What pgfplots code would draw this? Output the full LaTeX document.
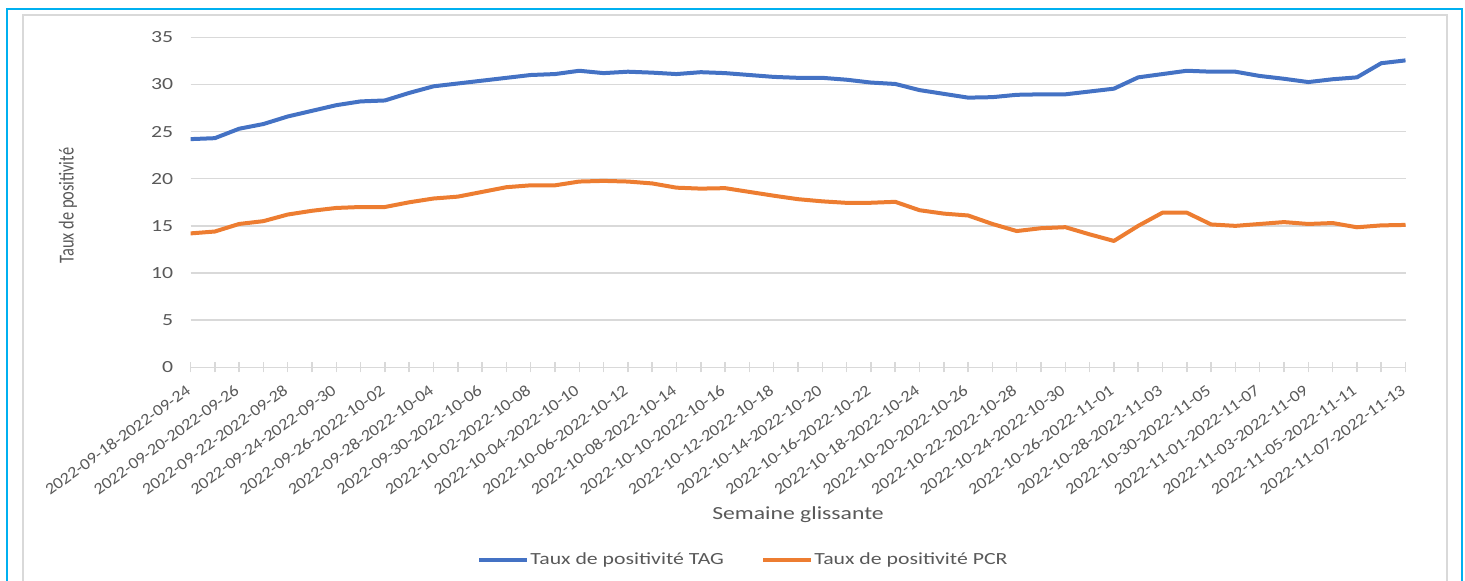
\documentclass[border=0pt]{standalone}
\usepackage{fontspec}
\setmainfont[FakeStretch=1.28]{Carlito}
\newfontfamily\diagfont[FakeStretch=1.12]{Carlito}
\newfontfamily\vertfont{Carlito}
\usepackage{graphicx}
\usepackage{pgfplots}
\usepackage{pgfplotstable}
\pgfplotsset{compat=1.18}
\definecolor{tagblue}{HTML}{4472C4}
\definecolor{pcrorange}{HTML}{ED7D31}
\definecolor{gridgray}{HTML}{D9D9D9}
\definecolor{txtgray}{HTML}{595959}
\definecolor{framecyan}{HTML}{00B0F0}

\pgfplotstableread{
i tag pcr
0 24.2 14.2
1 24.3 14.4
2 25.3 15.2
3 25.8 15.5
4 26.6 16.2
5 27.2 16.6
6 27.8 16.9
7 28.2 17.0
8 28.3 17.0
9 29.1 17.5
10 29.8 17.9
11 30.1 18.1
12 30.4 18.6
13 30.7 19.1
14 31.0 19.3
15 31.1 19.3
16 31.45 19.7
17 31.2 19.77
18 31.35 19.7
19 31.25 19.5
20 31.1 19.05
21 31.3 18.95
22 31.2 19.0
23 31.0 18.6
24 30.8 18.2
25 30.7 17.83
26 30.7 17.6
27 30.5 17.44
28 30.2 17.45
29 30.05 17.55
30 29.4 16.66
31 29.0 16.3
32 28.6 16.1
33 28.65 15.2
34 28.9 14.45
35 28.95 14.75
36 28.95 14.86
37 29.25 14.1
38 29.55 13.4
39 30.75 15.0
40 31.1 16.4
41 31.45 16.4
42 31.35 15.15
43 31.35 15.0
44 30.9 15.2
45 30.6 15.4
46 30.25 15.2
47 30.55 15.3
48 30.75 14.85
49 32.25 15.05
50 32.55 15.1
}\datatable

\begin{document}
\begin{tikzpicture}
\useasboundingbox (0,0) rectangle (732.5pt,290.5pt);
% frame
\draw[framecyan, line width=1pt] (3.65pt,0pt) -- (3.65pt,286pt) -- (730.8pt,286pt) -- (730.8pt,0pt);
\draw[gridgray, line width=1pt] (11.35pt,0pt) -- (11.35pt,283pt) -- (723.5pt,283pt) -- (723.5pt,0pt);
\begin{axis}[
  at={(95.25pt,106.85pt)}, anchor=south west,
  scale only axis, width=607.5pt, height=165pt,
  xmin=0, xmax=50, ymin=0, ymax=35,
  axis line style={draw=none},
  ymajorgrids, grid style={gridgray, line width=0.75pt},
  ytick={0,5,...,35},
  ytick style={draw=none},
  xtick={0,2,...,50},
  minor xtick={1,3,...,49},
  xtick pos=lower,
  tick align=center,
  major tick length=5pt, minor tick length=5pt,
  xtick style={gridgray, line width=0.75pt},
  xticklabels={2022-09-18-2022-09-24,2022-09-20-2022-09-26,2022-09-22-2022-09-28,2022-09-24-2022-09-30,2022-09-26-2022-10-02,2022-09-28-2022-10-04,2022-09-30-2022-10-06,2022-10-02-2022-10-08,2022-10-04-2022-10-10,2022-10-06-2022-10-12,2022-10-08-2022-10-14,2022-10-10-2022-10-16,2022-10-12-2022-10-18,2022-10-14-2022-10-20,2022-10-16-2022-10-22,2022-10-18-2022-10-24,2022-10-20-2022-10-26,2022-10-22-2022-10-28,2022-10-24-2022-10-30,2022-10-26-2022-11-01,2022-10-28-2022-11-03,2022-10-30-2022-11-05,2022-11-01-2022-11-07,2022-11-03-2022-11-09,2022-11-05-2022-11-11,2022-11-07-2022-11-13},
  xticklabel style={font=\diagfont\fontsize{8.1}{10}\selectfont, text=txtgray, rotate=36, anchor=north east, inner sep=0pt, yshift=-3pt, xshift=-5.5pt},
  yticklabel style={font=\fontsize{8.5}{10}\selectfont, text=txtgray, inner sep=0pt, xshift=-6pt},
  /pgf/number format/assume math mode=true,
  xlabel={Semaine glissante},
  xlabel style={at={(axis description cs:0.5,-0.4455)}, anchor=center, font=\fontsize{9.25}{11}\selectfont, text=txtgray},
  ylabel={\scalebox{1}[1.3]{Taux de positivité}},
  ylabel style={at={(axis description cs:-0.1008,0.49)}, anchor=center, rotate=0, font=\vertfont\fontsize{8.2}{10}\selectfont, text=txtgray},
  legend columns=2,
  legend style={at={(0.4547,-0.585)}, anchor=center, draw=none, fill=none,
    font=\fontsize{8.5}{10}\selectfont, text=txtgray,
    /tikz/every even column/.append style={column sep=18pt},
    nodes={inner sep=0.6pt}},
  legend image code/.code={\draw[#1] (0pt,0pt) -- (24pt,0pt);},
]
\addplot[tagblue, line width=2pt, line join=round] table[x=i, y=tag] {\datatable};
\addlegendentry{Taux de positivité TAG}
\addplot[pcrorange, line width=2pt, line join=round] table[x=i, y=pcr] {\datatable};
\addlegendentry{Taux de positivité PCR}
\end{axis}
\end{tikzpicture}
\end{document}
